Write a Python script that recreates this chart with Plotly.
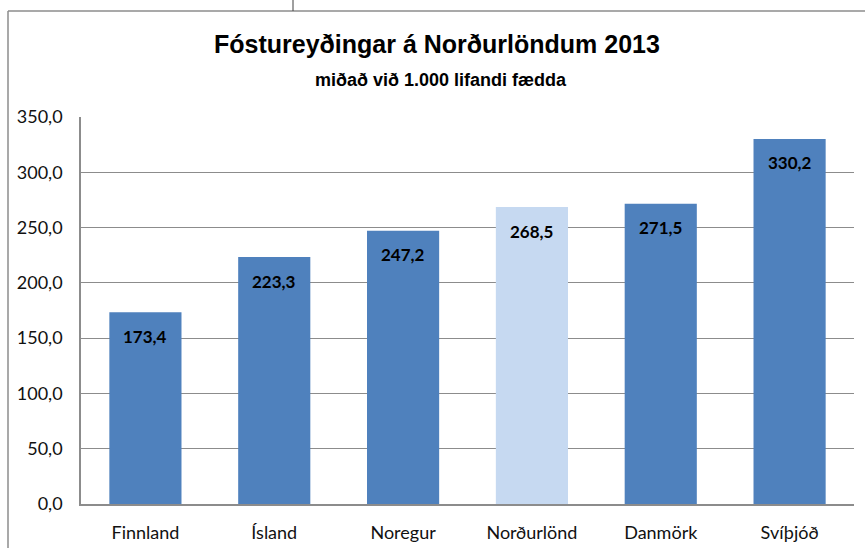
import plotly.graph_objects as go

categories = ["Finnland", "Ísland", "Noregur", "Norðurlönd", "Danmörk", "Svíþjóð"]
values = [173.4, 223.3, 247.2, 268.5, 271.5, 330.2]
bar_colors = ["#4F81BD", "#4F81BD", "#4F81BD", "#C6D9F1", "#4F81BD", "#4F81BD"]
y_ticks = [0, 50, 100, 150, 200, 250, 300, 350]
title_text = "Fóstureyðingar á Norðurlöndum 2013"
subtitle_text = "miðað við 1.000 lifandi fædda"

W, H = 865, 548
L, R, T, B = 81, 854, 117, 504

def px(x):
    return (x - L) / (R - L)

def py(y):
    return (B - y) / (B - T)

fig = go.Figure()
fig.add_trace(go.Bar(
    x=categories, y=values, marker=dict(color=bar_colors, line=dict(width=0)),
    width=0.56, hoverinfo="skip", showlegend=False,
))

label_font = dict(family="Lato, Open Sans, sans-serif", size=17, color="black")
for c, v in zip(categories, values):
    fig.add_annotation(x=c, y=v, text=f"<b>{v:.1f}</b>".replace(".", ","), showarrow=False,
                       yanchor="middle", yshift=-24, font=label_font)

narrow = "Liberation Sans Narrow, Arial Narrow, Liberation Sans, sans-serif"
fig.add_annotation(xref="paper", yref="paper", x=px(437), y=py(44), text=f"<b>{title_text}</b>",
                   showarrow=False, xanchor="center", yanchor="middle",
                   font=dict(family=narrow, size=25, color="black"))
fig.add_annotation(xref="paper", yref="paper", x=px(441), y=py(80), text=f"<b>{subtitle_text}</b>",
                   showarrow=False, xanchor="center", yanchor="middle",
                   font=dict(family=narrow, size=18, color="black"))

line = dict(color="#8C8C8C", width=1.5)
fig.add_shape(type="line", xref="paper", yref="paper", x0=px(8), x1=px(8), y0=py(11), y1=py(560), line=line)
fig.add_shape(type="line", xref="paper", yref="paper", x0=px(8), x1=px(870), y0=py(11), y1=py(11), line=line)
fig.add_shape(type="line", xref="paper", yref="paper", x0=px(293), x1=px(293), y0=py(-5), y1=py(11),
              line=dict(color="#404040", width=1))

tick_font = dict(family="Lato, Open Sans, sans-serif", size=18, color="#111111")
fig.update_layout(
    width=W, height=H, margin=dict(l=L, r=W - R, t=T, b=H - B),
    paper_bgcolor="white", plot_bgcolor="white", separators=",.",
    bargap=0.44,
    xaxis=dict(showline=True, linecolor="#8C8C8C", linewidth=1.5, showgrid=False, automargin=False,
               tickfont=tick_font, ticklabelstandoff=12, fixedrange=True),
    yaxis=dict(range=[0, 350], tickvals=y_ticks, tickformat=".1f", showgrid=True, automargin=False,
               gridcolor="#8C8C8C", gridwidth=1.2, showline=True, linecolor="#8C8C8C", linewidth=1.5,
               zeroline=False, tickfont=tick_font, ticklabelstandoff=13, fixedrange=True),
)

fig.write_html("out.html", config={"displayModeBar": False},
               post_script="document.body.style.margin='0';document.body.style.overflow='hidden';")
